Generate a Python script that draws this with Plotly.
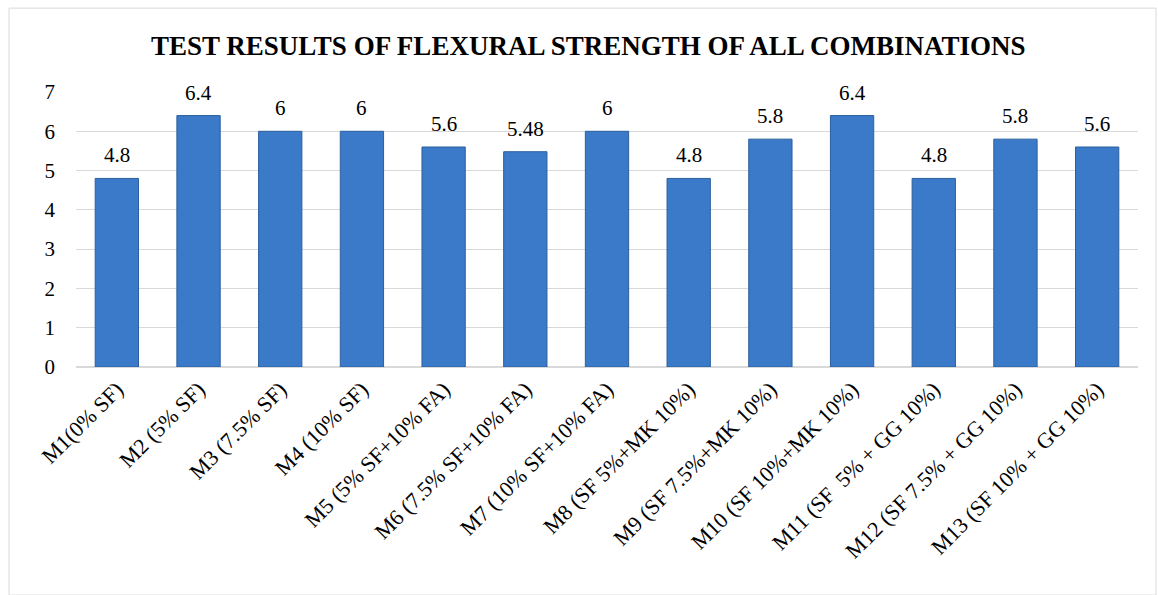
import plotly.graph_objects as go

categories = [
    "M1(0% SF)", "M2 (5% SF)", "M3 (7.5% SF)", "M4 (10% SF)",
    "M5 (5% SF+10% FA)", "M6 (7.5% SF+10% FA)", "M7 (10% SF+10% FA)",
    "M8 (SF 5%+MK 10%)", "M9 (SF 7.5%+MK 10%)", "M10 (SF 10%+MK 10%)",
    "M11 (SF \u00a05% + GG 10%)", "M12 (SF 7.5% + GG 10%)", "M13 (SF 10% + GG 10%)",
]
values = [4.8, 6.4, 6, 6, 5.6, 5.48, 6, 4.8, 5.8, 6.4, 4.8, 5.8, 5.6]
labels = ["4.8", "6.4", "6", "6", "5.6", "5.48", "6", "4.8", "5.8", "6.4", "4.8", "5.8", "5.6"]
y_ticks = [0, 1, 2, 3, 4, 5, 6, 7]

FONT = "Liberation Serif, Times New Roman, serif"

fig = go.Figure()
fig.add_trace(go.Bar(
    x=categories,
    y=values,
    marker=dict(color="#3b7ac9", line=dict(color="#2b5f9e", width=1)),
    width=0.53,
))

for c, v, t in zip(categories, values, labels):
    fig.add_annotation(
        x=c, y=v, text=t, showarrow=False,
        yanchor="bottom", yshift=9,
        font=dict(family=FONT, size=21, color="#000000"),
    )

fig.update_layout(
    width=1158, height=595,
    margin=dict(l=76, r=20, t=92, b=227.5),
    paper_bgcolor="white", plot_bgcolor="white",
    showlegend=False,
    title=dict(
        text="<b>TEST RESULTS OF FLEXURAL STRENGTH OF ALL COMBINATIONS</b>",
        font=dict(family=FONT, size=27, color="#000000"),
        x=0.508, xref="container", xanchor="center",
        y=1 - 46 / 595, yref="container", yanchor="middle",
    ),
    xaxis=dict(
        tickangle=-45,
        tickfont=dict(family=FONT, size=22, color="#000000"),
        showgrid=False,
        showline=True, linecolor="#d9d9d9", linewidth=1,
        ticks="",
    ),
    yaxis=dict(
        range=[0, 7],
        tickvals=y_ticks,
        tickfont=dict(family=FONT, size=21, color="#000000"),
        showgrid=True, gridcolor="#d9d9d9", gridwidth=1,
        zeroline=True, zerolinecolor="#d9d9d9",
        showline=False, ticks="",
        ticklabelstandoff=20,
    ),
    bargap=0.47,
)
fig.add_shape(
    type="rect", xref="paper", yref="paper",
    x0=(9 - 76) / 1062, x1=(1156 - 76) / 1062,
    y0=(367.5 - 596) / 275.5, y1=(367.5 - 8) / 275.5,
    line=dict(color="#d9d9d9", width=1),
    fillcolor="rgba(0,0,0,0)",
    layer="below",
)

fig.write_html("out.html")
